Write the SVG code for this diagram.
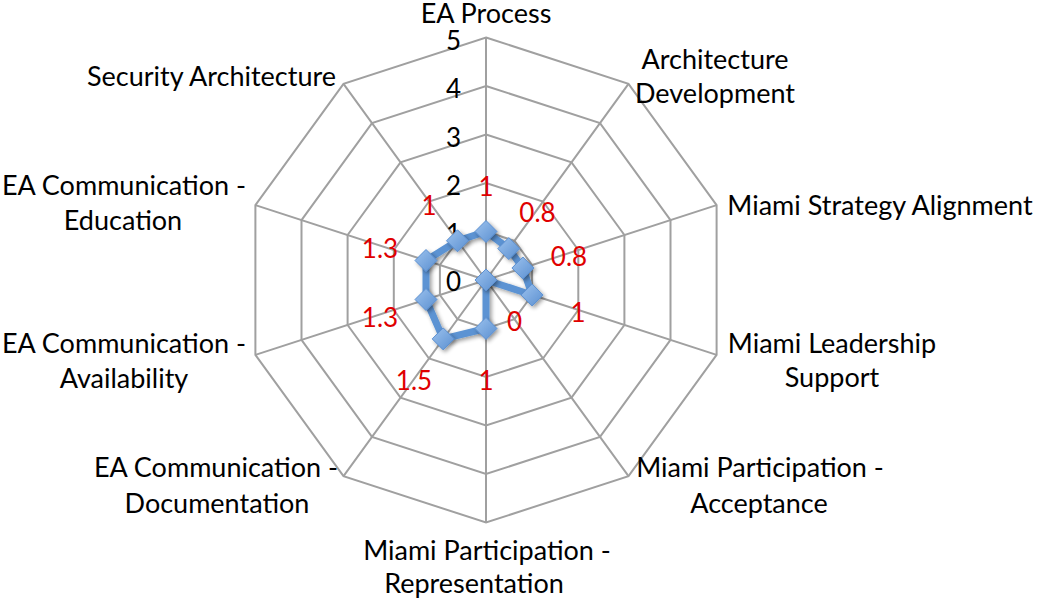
<svg xmlns="http://www.w3.org/2000/svg" width="1038" height="600" viewBox="0 0 1038 600">
<style>
.grid{fill:none;stroke:#a0a0a0;stroke-width:2;stroke-linejoin:miter}
.cat{font-family:Lato,"Open Sans","Liberation Sans",sans-serif;font-size:27px;fill:#000;text-anchor:middle}
.tick{font-family:Lato,"Open Sans","Liberation Sans",sans-serif;font-size:26px;fill:#000;text-anchor:end}
.val{font-family:Lato,"Open Sans","Liberation Sans",sans-serif;font-size:26px;fill:#e00000;text-anchor:middle}
.series{fill:none;stroke:#5b93d3;stroke-width:7;stroke-linejoin:round}
.mk{fill:url(#mg);stroke:#5b8fd0;stroke-width:1}
</style>
<defs>
<linearGradient id="mg" x1="0" y1="0" x2="1" y2="1">
<stop offset="0" stop-color="#9cc2ee"/>
<stop offset="1" stop-color="#5a8fd0"/>
</linearGradient>
<filter id="sh" x="-20%" y="-20%" width="140%" height="140%">
<feGaussianBlur in="SourceAlpha" stdDeviation="2"/>
<feOffset dx="2" dy="2" result="b"/>
<feComponentTransfer><feFuncA type="linear" slope="0.4"/></feComponentTransfer>
<feMerge><feMergeNode/><feMergeNode in="SourceGraphic"/></feMerge>
</filter>
<path id="dm" d="M0,-11 L11,0 L0,11 L-11,0 Z"/>
</defs>
<rect width="1038" height="600" fill="#fff"/>
<g id="grid">
<polygon class="grid" points="486,37.5 628.5,83.8 716.6,205.1 716.6,354.9 628.5,476.2 486,522.5 343.5,476.2 255.4,354.9 255.4,205.1 343.5,83.8"/>
<polygon class="grid" points="486,86 600,123.05 670.5,220.05 670.5,339.95 600,436.95 486,474 372,436.95 301.5,339.95 301.5,220.05 372,123.05"/>
<polygon class="grid" points="486,134.5 571.5,162.3 624.4,235 624.4,325 571.5,397.7 486,425.5 400.5,397.7 347.6,325 347.6,235 400.5,162.3"/>
<polygon class="grid" points="486,183 543,201.5 578.3,250 578.3,310 543,358.5 486,377 429,358.5 393.8,310 393.8,250 429,201.5"/>
<polygon class="grid" points="486,231.5 514.5,240.8 532.1,265 532.1,295 514.5,319.2 486,328.5 457.5,319.2 439.9,295 439.9,265 457.5,240.8"/>
<path class="grid" d="M486,280 L486,37.5 M486,280 L628.5,83.8 M486,280 L716.6,205.1 M486,280 L716.6,354.9 M486,280 L628.5,476.2 M486,280 L486,522.5 M486,280 L343.5,476.2 M486,280 L255.4,354.9 M486,280 L255.4,205.1 M486,280 L343.5,83.8"/>
</g>
<g id="ticks">
<text class="tick" x="461" y="50">5</text>
<text class="tick" x="461" y="98">4</text>
<text class="tick" x="461" y="147">3</text>
<text class="tick" x="461" y="195">2</text>
<text class="tick" x="461" y="243">1</text>
<text class="tick" x="461" y="291">0</text>
</g>
<g id="connectors">
<polygon class="series" filter="url(#sh)" points="486,231.5 508.8,248.6 522.9,268 532.1,295 486,280 486,328.5 443.2,338.9 426,299.5 426,260.5 457.5,240.8"/>
</g>
<g id="markers" filter="url(#sh)">
<use href="#dm" class="mk" x="486" y="231.5"/>
<use href="#dm" class="mk" x="508.8" y="248.6"/>
<use href="#dm" class="mk" x="522.9" y="268"/>
<use href="#dm" class="mk" x="532.1" y="295"/>
<use href="#dm" class="mk" x="486" y="280"/>
<use href="#dm" class="mk" x="486" y="328.5"/>
<use href="#dm" class="mk" x="443.2" y="338.9"/>
<use href="#dm" class="mk" x="426" y="299.5"/>
<use href="#dm" class="mk" x="426" y="260.5"/>
<use href="#dm" class="mk" x="457.5" y="240.8"/>
</g>
<g id="values">
<text class="val" x="486" y="196">1</text>
<text class="val" x="537.5" y="222">0.8</text>
<text class="val" x="569" y="266">0.8</text>
<text class="val" x="578" y="322">1</text>
<text class="val" x="514.5" y="331">0</text>
<text class="val" x="486" y="390">1</text>
<text class="val" x="414" y="390">1.5</text>
<text class="val" x="380" y="327">1.3</text>
<text class="val" x="380" y="258">1.3</text>
<text class="val" x="429" y="215">1</text>
</g>
<g id="node-ea-process"><text class="cat" x="486" y="23">EA Process</text></g>
<g id="node-architecture-development"><text class="cat" x="715" y="69">Architecture</text><text class="cat" x="715" y="103">Development</text></g>
<g id="node-miami-strategy-alignment"><text class="cat" x="880" y="215">Miami Strategy Alignment</text></g>
<g id="node-miami-leadership-support"><text class="cat" x="832" y="353">Miami Leadership</text><text class="cat" x="832" y="387">Support</text></g>
<g id="node-miami-participation-acceptance"><text class="cat" x="760" y="477">Miami Participation -</text><text class="cat" x="759" y="513">Acceptance</text></g>
<g id="node-miami-participation-representation"><text class="cat" x="487" y="560">Miami Participation -</text><text class="cat" x="474" y="593">Representation</text></g>
<g id="node-ea-communication-documentation"><text class="cat" x="216" y="477">EA Communication -</text><text class="cat" x="217" y="513">Documentation</text></g>
<g id="node-ea-communication-availability"><text class="cat" x="124" y="353">EA Communication -</text><text class="cat" x="124" y="388">Availability</text></g>
<g id="node-ea-communication-education"><text class="cat" x="124" y="195">EA Communication -</text><text class="cat" x="123" y="230">Education</text></g>
<g id="node-security-architecture"><text class="cat" x="211.5" y="86">Security Architecture</text></g>
</svg>
